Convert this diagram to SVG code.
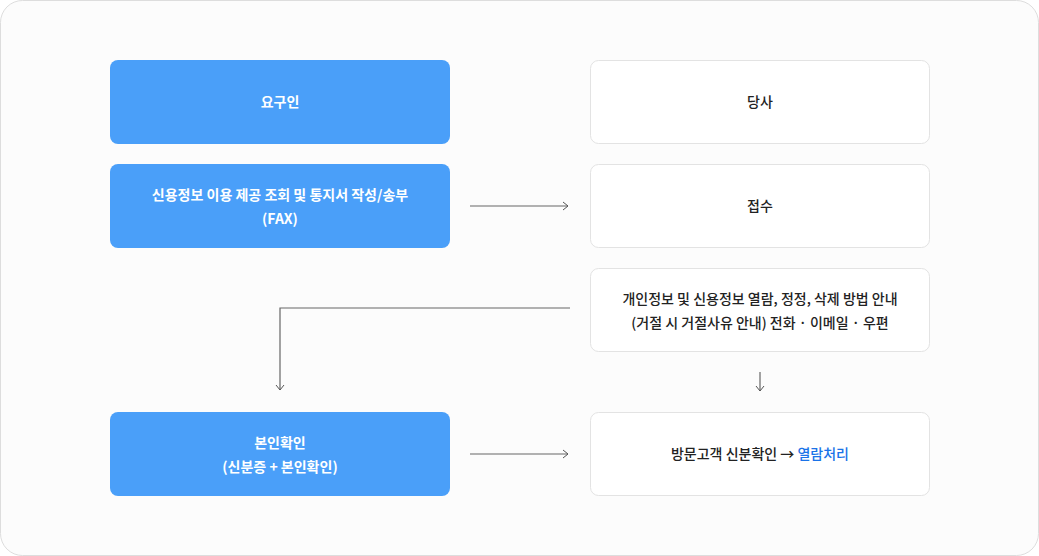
<svg xmlns="http://www.w3.org/2000/svg" width="1039" height="556" viewBox="0 0 1039 556">
<style>
.b{fill:#4a9ff9}
.w{fill:#fff;stroke:#e3e3e3;stroke-width:1}
text{font-family:"Noto Sans CJK KR","Noto Sans",sans-serif;font-size:14px;text-anchor:middle}
.bt{fill:#fff;font-weight:bold}
.wt{fill:#222;font-weight:500}
.c{fill:none;stroke:#666;stroke-width:1.2}
</style>
<defs><marker id="a" markerWidth="10" markerHeight="10" refX="8" refY="5" orient="auto" markerUnits="userSpaceOnUse"><path d="M3,1 L8,5 L3,9" fill="none" stroke="#555" stroke-width="1"/></marker></defs>
<rect x="0.5" y="0.5" width="1038" height="555" rx="22" fill="#fcfcfc" stroke="#ddd"/>
<g id="n1"><rect class="b" x="110" y="60" width="340" height="84" rx="8"/><text class="bt" x="280" y="107">요구인</text></g>
<g id="n2"><rect class="b" x="110" y="164" width="340" height="84" rx="8"/><text class="bt" x="280" y="200">신용정보 이용 제공 조회 및 통지서 작성/송부</text><text class="bt" x="280" y="224">(FAX)</text></g>
<g id="n3"><rect class="b" x="110" y="412" width="340" height="84" rx="8"/><text class="bt" x="280" y="448">본인확인</text><text class="bt" x="280" y="472">(신분증 + 본인확인)</text></g>
<g id="n4"><rect class="w" x="590.5" y="60.5" width="339" height="83" rx="8"/><text class="wt" x="760" y="107">당사</text></g>
<g id="n5"><rect class="w" x="590.5" y="164.5" width="339" height="83" rx="8"/><text class="wt" x="760" y="211">접수</text></g>
<g id="n6"><rect class="w" x="590.5" y="268.5" width="339" height="83" rx="8"/><text class="wt" x="760" y="304">개인정보 및 신용정보 열람, 정정, 삭제 방법 안내</text><text class="wt" x="760" y="328">(거절 시 거절사유 안내) 전화 · 이메일 · 우편</text></g>
<g id="n7"><rect class="w" x="590.5" y="412.5" width="339" height="83" rx="8"/><text class="wt" x="760" y="459">방문고객 신분확인 → <tspan fill="#1a73e8">열람처리</tspan></text></g>
<g id="connectors">
<path class="c" d="M470,206 H568" marker-end="url(#a)"/>
<path class="c" d="M470,454 H568" marker-end="url(#a)"/>
<path class="c" d="M570,308 H280 V390" marker-end="url(#a)"/>
<path class="c" d="M760,372 V391" marker-end="url(#a)"/>
</g>
</svg>
